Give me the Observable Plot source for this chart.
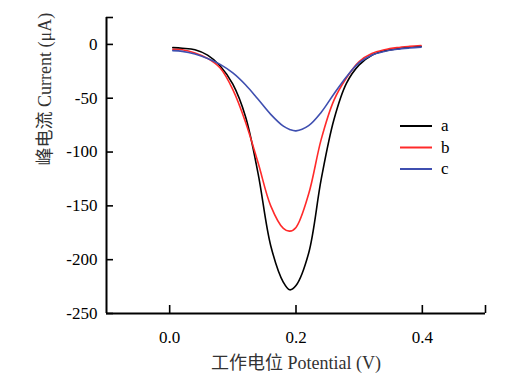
<!DOCTYPE html>
<html>
<head>
<meta charset="utf-8">
<script src="https://cdn.jsdelivr.net/npm/d3@7"></script>
<script src="https://cdn.jsdelivr.net/npm/@observablehq/plot@0.6"></script>
<style>
  html, body { margin: 0; padding: 0; background: #fff; }
  #wrap { position: relative; width: 524px; height: 388px; }
  #legend { position: absolute; left: 0; top: 0; }
  #wrap svg, #wrap svg text { font-family: "Liberation Serif", "Noto Sans CJK SC", serif !important; }
</style>
</head>
<body>
<div id="wrap"></div>
<script>
// Potential (V)
const potential = [0.005, 0.02, 0.04, 0.06, 0.08, 0.10, 0.12, 0.14, 0.16, 0.18, 0.19, 0.20, 0.22, 0.24, 0.26, 0.28, 0.30, 0.32, 0.34, 0.36, 0.38, 0.398];
// Peak current (µA) for each series
const seriesA = [-3.0, -3.6, -5.0, -10, -20, -37, -67, -120, -187, -221, -228, -224, -194, -125, -70, -36, -19, -10, -6, -4, -2.5, -1.9];
const seriesB = [-4.5, -5.0, -8.0, -13, -22, -42, -72, -110, -150, -171, -173.5, -170, -139, -88, -52, -31, -16, -8.5, -5, -3, -1.8, -1.0];
const seriesC = [-5.8, -6.5, -9.0, -13, -18.5, -26.5, -37.5, -51, -65, -76, -79, -80.3, -75.5, -63, -46, -30, -17, -10, -6.5, -4.5, -3.3, -2.5];
const seriesNames = ["a", "b", "c"];
const seriesColors = ["#000000", "#ff2a2a", "#3f4fb0"];
const xTicks = [0, 0.2, 0.4];
const yTicks = [-250, -200, -150, -100, -50, 0];
const xDomain = [-0.1, 0.5];
const yDomain = [-250, 25];
const xTitle = "工作电位 Potential (V)";
const yTitle = "峰电流 Current (μA)";

const allSeries = [seriesA, seriesB, seriesC];
const data = [];
allSeries.forEach((vals, i) => {
  vals.forEach((v, j) => data.push({series: seriesNames[i], x: potential[j], y: v}));
});

const font = "Liberation Serif, Noto Sans CJK SC, serif";

const chart = Plot.plot({
  width: 524,
  height: 388,
  marginLeft: 106,
  marginRight: 39,
  marginTop: 17,
  marginBottom: 75,
  style: {fontFamily: font, fontSize: "17px", color: "#000", background: "#fff"},
  x: {domain: xDomain},
  y: {domain: yDomain},
  color: {domain: seriesNames, range: seriesColors},
  marks: [
    Plot.line(data, {x: "x", y: "y", z: "series", stroke: "series", strokeWidth: 1.6, curve: "catmull-rom"}),
    // inward ticks
    Plot.axisX([...xTicks, xDomain[1]], {tickSize: -8, tickFormat: () => "", strokeWidth: 1.6, label: null}),
    Plot.axisY([...yTicks, yDomain[1]], {tickSize: -7, tickFormat: () => "", strokeWidth: 1.6, label: null}),
    // labels
    Plot.axisX(xTicks, {tickSize: 0, tickPadding: 17, tickFormat: d3.format(".1f"), fontSize: 17, fill: "#000", label: null}),
    Plot.axisY(yTicks, {tickSize: 0, tickPadding: 9, tickFormat: d => String(d), fontSize: 17, fill: "#000", label: null}),
    // axis lines
    Plot.ruleY([yDomain[0]], {strokeWidth: 2}),
    Plot.ruleX([xDomain[0]], {strokeWidth: 2}),
    // titles
    Plot.text([xTitle], {frameAnchor: "bottom", dy: 55, text: d => d, fontSize: 18, fill: "#333"}),
    Plot.text([yTitle], {frameAnchor: "left", dx: -61, rotate: -90, text: d => d, fontSize: 18, fill: "#333"})
  ]
});

// make sure tick labels use the serif face and size
d3.select(chart).selectAll('g[aria-label$="tick label"]')
  .attr("font-family", font)
  .style("font-family", "'Liberation Serif', serif")
  .style("font-variant", "normal")
  .style("font-size", "17px");

document.getElementById("wrap").appendChild(chart);

// legend overlay
const svgNS = "http://www.w3.org/2000/svg";
const leg = document.createElementNS(svgNS, "svg");
leg.setAttribute("id", "legend");
leg.setAttribute("width", 524);
leg.setAttribute("height", 388);
seriesNames.forEach((name, i) => {
  const yy = 126 + i * 21.5;
  const ln = document.createElementNS(svgNS, "line");
  ln.setAttribute("x1", 400); ln.setAttribute("x2", 432);
  ln.setAttribute("y1", yy); ln.setAttribute("y2", yy);
  ln.setAttribute("stroke", seriesColors[i]);
  ln.setAttribute("stroke-width", 2);
  leg.appendChild(ln);
  const t = document.createElementNS(svgNS, "text");
  t.setAttribute("x", 441); t.setAttribute("y", yy);
  t.setAttribute("dy", "0.32em");
  t.setAttribute("font-size", 17);
  t.textContent = name;
  leg.appendChild(t);
});
document.getElementById("wrap").appendChild(leg);
</script>
</body>
</html>
